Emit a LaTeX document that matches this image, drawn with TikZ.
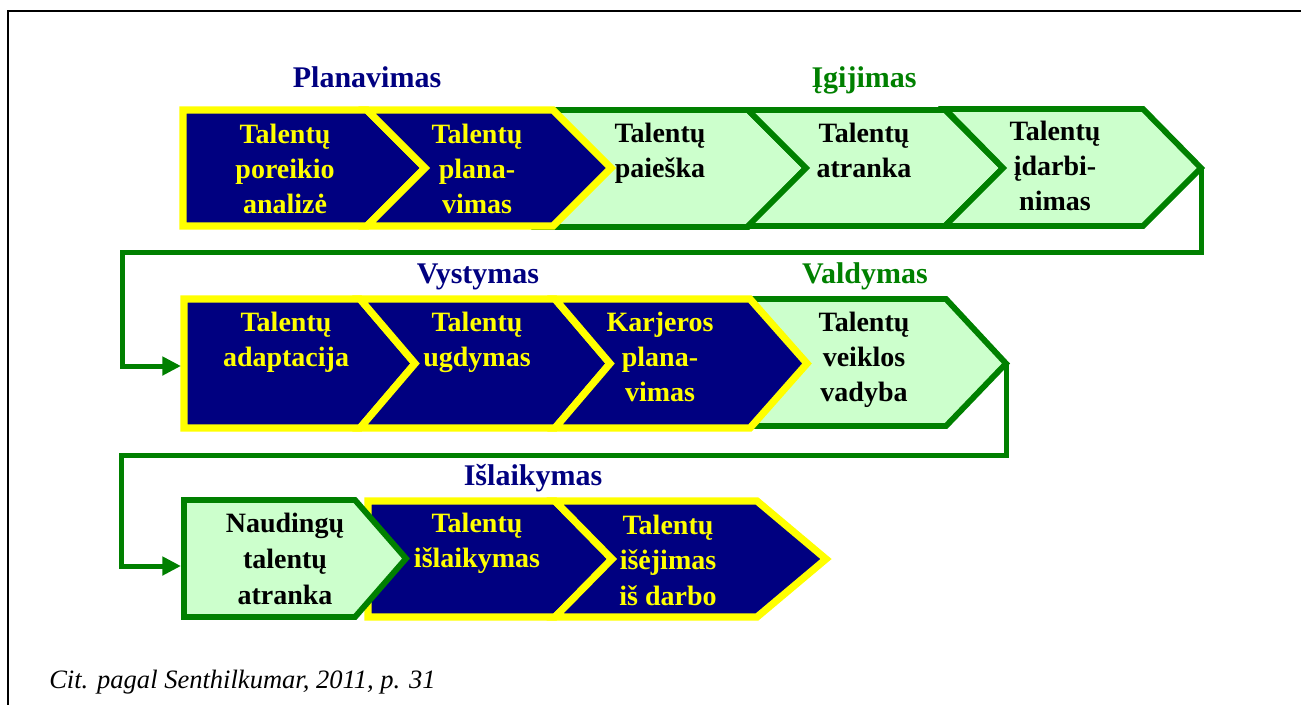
\documentclass[tikz,border=0pt]{standalone}
\usepackage{fontspec}
\setmainfont{Liberation Serif}
\usetikzlibrary{arrows.meta}
\definecolor{navy}{RGB}{0,0,128}
\definecolor{leaf}{RGB}{0,128,0}
\definecolor{mint}{RGB}{204,255,204}
\definecolor{gold}{RGB}{255,255,0}

\begin{document}
\begin{tikzpicture}[x=0.75pt,y=-0.75pt,
  bluestage/.style={fill=navy,draw=gold,line width=5.4pt},
  greenstage/.style={fill=mint,draw=leaf,line width=4.4pt},
  % multi-line labels are placed by the baseline of their last line
  stagetext/.style={font=\fontsize{21}{26.25}\selectfont\bfseries,align=center,anchor=base,inner sep=0pt},
  bluetext/.style={stagetext,text=gold},
  greentext/.style={stagetext,text=black},
  phase/.style={font=\fontsize{22.5}{27}\selectfont\bfseries,anchor=base,inner sep=0pt},
  flow/.style={draw=leaf,line width=3.75pt,-{Triangle[length=14pt,width=13.5pt]}}
]
\useasboundingbox (0,0) rectangle (1301,704);
\begin{scope}
  \clip (0,0) rectangle (1301,704);
  \draw[line width=1.9pt] (8,730) -- (8,11) -- (1330,11);
\end{scope}

% ---------- row 1: planning (blue) and acquisition (green) ----------
\draw[greenstage] (538,110) -- (748,110) -- (806,168) -- (748,227) -- (538,227) -- (596,168) -- cycle;
\draw[greenstage] (748,110) -- (945,110) -- (1003,168) -- (945,226) -- (748,226) -- (806,168) -- cycle;
\draw[greenstage] (945,109) -- (1143,109) -- (1201,168) -- (1143,226) -- (945,226) -- (1003,168) -- cycle;
\draw[bluestage] (183,110) -- (367,110) -- (425,168) -- (367,226) -- (183,226) -- cycle;
\draw[bluestage] (367,110) -- (553,110) -- (611,168) -- (553,226) -- (367,226) -- (425,168) -- cycle;

\node[phase,text=navy] (planavimas) at (367,87) {Planavimas};
\node[phase,text=leaf] (igijimas) at (864,87) {Įgijimas};

\node[bluetext] (poreikis) at (285,213) {Talentų\\poreikio\\analizė};
\node[bluetext] (planas) at (477,213) {Talentų\\plana-\\vimas};
\node[greentext] (paieska) at (660,177) {Talentų\\paieška};
\node[greentext] (atranka) at (864,177) {Talentų\\atranka};
\node[greentext] (idarbinimas) at (1055,210) {Talentų\\įdarbi-\\nimas};

% ---------- row 2: development (blue) and management (green) ----------
\draw[greenstage] (700,299) -- (946,299) -- (1006,363.5) -- (946,426) -- (700,426) -- cycle;
\draw[bluestage] (184,299) -- (360,299) -- (415,363.5) -- (360,428) -- (184,428) -- cycle;
\draw[bluestage] (360,299) -- (555,299) -- (610,363.5) -- (555,428) -- (360,428) -- (415,363.5) -- cycle;
\draw[bluestage] (555,299) -- (750,299) -- (807,363.5) -- (750,428) -- (555,428) -- (610,363.5) -- cycle;

\node[phase,text=navy] (vystymas) at (478,283) {Vystymas};
\node[phase,text=leaf] (valdymas) at (865,283) {Valdymas};

\node[bluetext] (adaptacija) at (286,366) {Talentų\\adaptacija};
\node[bluetext] (ugdymas) at (477,366) {Talentų\\ugdymas};
\node[bluetext] (karjera) at (660,401) {Karjeros\\plana-\\vimas};
\node[greentext] (vadyba) at (864,401) {Talentų\\veiklos\\vadyba};

% ---------- row 3: retention ----------
\draw[bluestage] (368,501) -- (555,501) -- (612,559) -- (555,617) -- (368,617) -- cycle;
\draw[bluestage] (555,501) -- (757,501) -- (826,559) -- (757,617) -- (555,617) -- (612,559) -- cycle;
\draw[greenstage] (184,500) -- (355,500) -- (406,558.5) -- (355,617) -- (184,617) -- cycle;

\node[phase,text=navy] (islaikymas) at (533,485) {Išlaikymas};

\node[greentext,font=\fontsize{21}{27}\selectfont\bfseries] (naudingu) at (285,604) {Naudingų\\talentų\\atranka};
\node[bluetext] (islaikymas2) at (477,567) {Talentų\\išlaikymas};
\node[bluetext,font=\fontsize{21}{26.5}\selectfont\bfseries] (isejimas) at (668,605) {Talentų\\išėjimas\\iš darbo};

% ---------- connectors between rows ----------
\coordinate (outA) at (1201,168);
\coordinate (bendA) at (122,252);
\coordinate (inB) at (181,366);
\draw[flow] (outA) |- (bendA) |- (inB);

\coordinate (outB) at (1006,363.5);
\coordinate (bendB) at (121,455);
\coordinate (inC) at (181,566);
\draw[flow] (outB) |- (bendB) |- (inC);

% ---------- source ----------
\node[anchor=base west,inner sep=0pt,font=\fontsize{19.9}{24}\selectfont\itshape] (cite) at (49,688) {Cit. pagal Senthilkumar, 2011, p. 31};
\end{tikzpicture}
\end{document}
